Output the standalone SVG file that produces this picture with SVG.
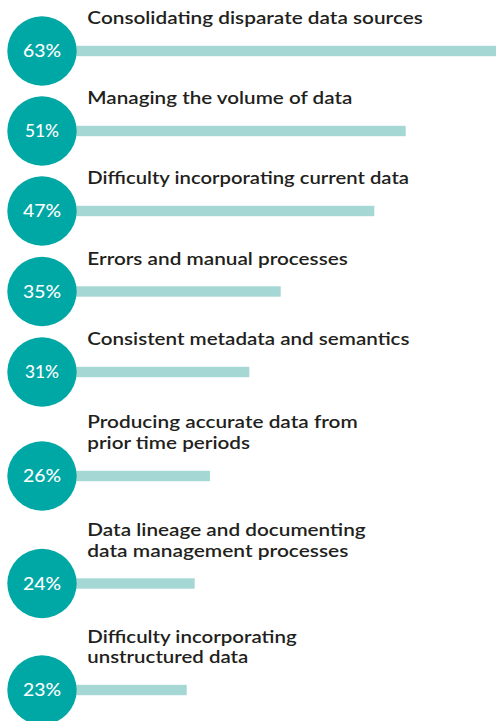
<svg xmlns="http://www.w3.org/2000/svg" width="496" height="721" viewBox="0 0 496 721">
<style>
.bar{fill:#A5D8D4}
.dot{fill:#00A8A5}
.pct{fill:#ffffff;font-family:Lato,"Open Sans","Liberation Sans",sans-serif;font-size:17.5px;font-weight:500;text-anchor:middle}
.lbl{fill:#231F20;font-family:Lato,"Open Sans","Liberation Sans",sans-serif;font-size:17px;font-weight:600}
</style>
<rect width="496" height="721" fill="#ffffff"/>
<g id="row1">
<rect class="bar" x="42" y="45.8" width="454" height="10.4"/>
<circle class="dot" cx="42" cy="51" r="34.7"/>
<text class="pct" x="42" y="57.3" textLength="38" lengthAdjust="spacingAndGlyphs">63%</text>
<text class="lbl" x="87.3" y="24" textLength="335.5" lengthAdjust="spacingAndGlyphs">Consolidating disparate data sources</text>
</g>
<g id="row2">
<rect class="bar" x="42" y="125.8" width="363.7" height="10.4"/>
<circle class="dot" cx="42" cy="131" r="34.7"/>
<text class="pct" x="42" y="137.3" textLength="34" lengthAdjust="spacingAndGlyphs">51%</text>
<text class="lbl" x="87.3" y="104" textLength="265" lengthAdjust="spacingAndGlyphs">Managing the volume of data</text>
</g>
<g id="row3">
<rect class="bar" x="42" y="205.8" width="332.3" height="10.4"/>
<circle class="dot" cx="42" cy="211" r="34.7"/>
<text class="pct" x="42" y="217.3" textLength="38" lengthAdjust="spacingAndGlyphs">47%</text>
<text class="lbl" x="87.3" y="184" textLength="321.7" lengthAdjust="spacingAndGlyphs">Difficulty incorporating current data</text>
</g>
<g id="row4">
<rect class="bar" x="42" y="286.3" width="238.7" height="10.4"/>
<circle class="dot" cx="42" cy="291.5" r="34.7"/>
<text class="pct" x="42" y="297.8" textLength="38" lengthAdjust="spacingAndGlyphs">35%</text>
<text class="lbl" x="87.3" y="265" textLength="260.5" lengthAdjust="spacingAndGlyphs">Errors and manual processes</text>
</g>
<g id="row5">
<rect class="bar" x="42" y="366.8" width="207.3" height="10.4"/>
<circle class="dot" cx="42" cy="372" r="34.7"/>
<text class="pct" x="42" y="378.3" textLength="34" lengthAdjust="spacingAndGlyphs">31%</text>
<text class="lbl" x="87.3" y="345" textLength="322.2" lengthAdjust="spacingAndGlyphs">Consistent metadata and semantics</text>
</g>
<g id="row6">
<rect class="bar" x="42" y="470.8" width="168" height="10.4"/>
<circle class="dot" cx="42" cy="476" r="34.7"/>
<text class="pct" x="42" y="482.3" textLength="38" lengthAdjust="spacingAndGlyphs">26%</text>
<text class="lbl" x="87.3" y="427.5" textLength="270.4" lengthAdjust="spacingAndGlyphs">Producing accurate data from</text>
<text class="lbl" x="87.3" y="448.5" textLength="162.7" lengthAdjust="spacingAndGlyphs">prior time periods</text>
</g>
<g id="row7">
<rect class="bar" x="42" y="578.3" width="152.7" height="10.4"/>
<circle class="dot" cx="42" cy="583.5" r="34.7"/>
<text class="pct" x="42" y="589.8" textLength="38" lengthAdjust="spacingAndGlyphs">24%</text>
<text class="lbl" x="87.3" y="535.5" textLength="278.4" lengthAdjust="spacingAndGlyphs">Data lineage and documenting</text>
<text class="lbl" x="87.3" y="556.5" textLength="261" lengthAdjust="spacingAndGlyphs">data management processes</text>
</g>
<g id="row8">
<rect class="bar" x="42" y="684.8" width="144.7" height="10.4"/>
<circle class="dot" cx="42" cy="690" r="34.7"/>
<text class="pct" x="42" y="696.3" textLength="38" lengthAdjust="spacingAndGlyphs">23%</text>
<text class="lbl" x="87.3" y="642.5" textLength="209.4" lengthAdjust="spacingAndGlyphs">Difficulty incorporating</text>
<text class="lbl" x="87.3" y="663.3" textLength="161" lengthAdjust="spacingAndGlyphs">unstructured data</text>
</g>
<g id="connectors"></g>
</svg>
